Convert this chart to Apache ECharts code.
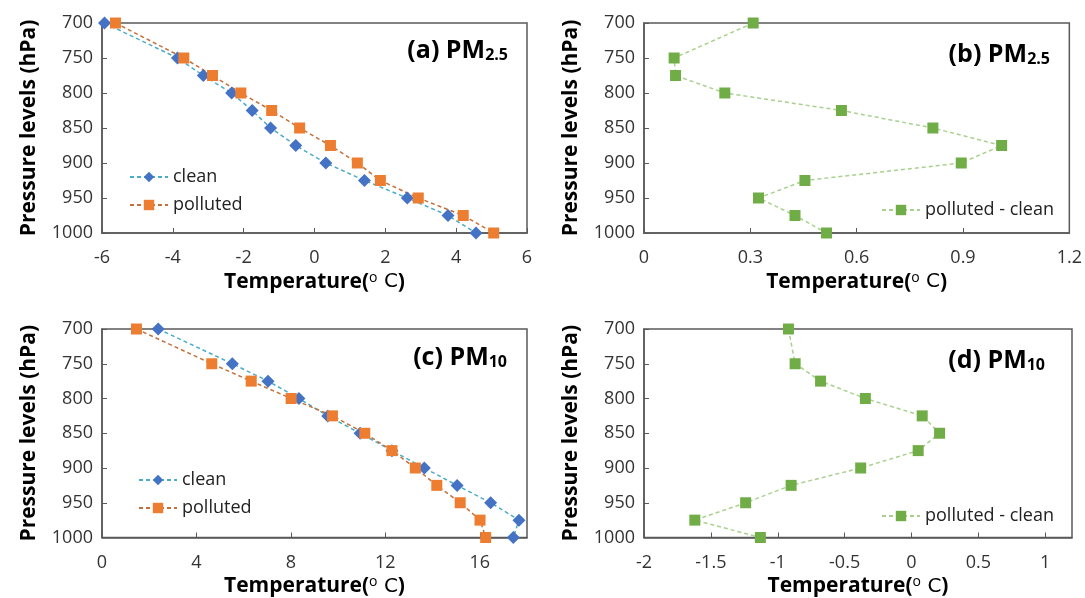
<!DOCTYPE html>
<html>
<head>
<meta charset="utf-8">
<script src="https://cdn.jsdelivr.net/npm/echarts@6/dist/echarts.min.js"></script>
<style>
  html, body { margin: 0; padding: 0; background: #fff; }
  #chart { width: 1085px; height: 598px; }
</style>
</head>
<body>
<div id="chart"></div>
<script>
// pressure levels (hPa)
const levels = [700, 750, 775, 800, 825, 850, 875, 900, 925, 950, 975, 1000];

// (a) PM2.5 temperature profiles
const pm25Clean = [-5.93, -3.87, -3.14, -2.34, -1.76, -1.24, -0.53, 0.32, 1.41, 2.62, 3.77, 4.56];
const pm25Polluted = [-5.62, -3.69, -2.88, -2.08, -1.21, -0.42, 0.45, 1.21, 1.86, 2.93, 4.2, 5.06];
// (b) PM2.5 polluted - clean
const pm25Diff = [0.308, 0.085, 0.089, 0.228, 0.557, 0.815, 1.009, 0.895, 0.454, 0.323, 0.426, 0.515];

// (c) PM10 temperature profiles
const pm10Clean = [2.38, 5.52, 7.03, 8.34, 9.56, 10.93, 12.28, 13.65, 15.04, 16.46, 17.66, 17.42];
const pm10Polluted = [1.46, 4.65, 6.32, 8.01, 9.76, 11.13, 12.28, 13.27, 14.18, 15.17, 16.01, 16.25];
// (d) PM10 polluted - clean
const pm10Diff = [-0.92, -0.87, -0.68, -0.345, 0.08, 0.21, 0.05, -0.38, -0.9, -1.24, -1.62, -1.13];

const panelLabels = [['(a) PM', '2.5'], ['(b) PM', '2.5'], ['(c) PM', '10'], ['(d) PM', '10']];

const FONT = 'Open Sans';
const axisColor = '#595959';
const labelColor = '#333';

const pair = (xs) => xs.map((x, i) => [x, levels[i]]);

const grids = [
  { left: 102, top: 23, width: 425, height: 210 },
  { left: 644, top: 23, width: 428, height: 210 },
  { left: 102, top: 329, width: 425, height: 210 },
  { left: 644, top: 329, width: 428, height: 210 }
].map(g => Object.assign(g, { show: true, borderColor: axisColor, borderWidth: 1.5, backgroundColor: '#fff' }));

const xRanges = [
  { min: -6, max: 6, interval: 2, showMax: true },
  { min: 0, max: 1.2, interval: 0.3, showMax: true },
  { min: 0, max: 18, interval: 4, showMax: false },
  { min: -2, max: 1.2, interval: 0.5, showMax: false }
];

const xAxes = xRanges.map((r, i) => ({
  type: 'value', gridIndex: i, min: r.min, max: r.max, interval: r.interval,
  name: '{t|Temperature(}{s|o}{c| C}{t|)}',
  nameLocation: 'middle', nameGap: 38,
  nameTextStyle: {
    rich: {
      t: { fontFamily: FONT, fontWeight: 'bold', fontSize: 21, color: '#000' },
      s: { fontFamily: FONT, fontSize: 14, color: '#000', verticalAlign: 'top', padding: [0, 0, 8, 0] },
      c: { fontFamily: 'DejaVu Sans', fontWeight: 'normal', fontSize: 20, color: '#000' }
    }
  },
  splitLine: { show: false },
  axisLine: { onZero: false, lineStyle: { color: axisColor, width: 1.5 } },
  axisTick: { inside: true, length: 5, lineStyle: { color: axisColor } },
  axisLabel: { fontFamily: FONT, fontSize: 18, color: labelColor, margin: 16, showMaxLabel: r.showMax }
}));

const yAxes = grids.map((g, i) => ({
  type: 'value', gridIndex: i, inverse: true, min: 700, max: 1000, interval: 50,
  name: 'Pressure levels (hPa)', nameLocation: 'middle', nameGap: 62,
  nameTextStyle: { fontFamily: FONT, fontWeight: 'bold', fontSize: 21, color: '#000' },
  splitLine: { show: false },
  axisLine: { onZero: false, lineStyle: { color: axisColor, width: 1.5 } },
  axisTick: { inside: true, length: 5, lineStyle: { color: axisColor } },
  axisLabel: { fontFamily: FONT, fontSize: 18, color: labelColor, margin: 9, formatter: v => String(v) }
}));

const cleanStyle = {
  name: 'clean', type: 'line', symbol: 'diamond', symbolSize: 13,
  itemStyle: { color: '#4472C4' },
  lineStyle: { color: '#4BACC6', type: [4, 3], width: 1.5 }
};
const pollutedStyle = {
  name: 'polluted', type: 'line', symbol: 'rect', symbolSize: 11,
  itemStyle: { color: '#ED7D31' },
  lineStyle: { color: '#C5703A', type: [4, 3], width: 1.5 }
};
const diffStyle = {
  name: 'polluted - clean', type: 'line', symbol: 'rect', symbolSize: 11,
  itemStyle: { color: '#70AD47' },
  lineStyle: { color: '#A9D18E', type: [4, 3], width: 1.5 }
};

const series = [
  Object.assign({}, cleanStyle, { xAxisIndex: 0, yAxisIndex: 0, data: pair(pm25Clean) }),
  Object.assign({}, pollutedStyle, { xAxisIndex: 0, yAxisIndex: 0, data: pair(pm25Polluted) }),
  Object.assign({}, diffStyle, { xAxisIndex: 1, yAxisIndex: 1, data: pair(pm25Diff) }),
  Object.assign({}, cleanStyle, { xAxisIndex: 2, yAxisIndex: 2, data: pair(pm10Clean) }),
  Object.assign({}, pollutedStyle, { xAxisIndex: 2, yAxisIndex: 2, data: pair(pm10Polluted) }),
  Object.assign({}, diffStyle, { xAxisIndex: 3, yAxisIndex: 3, data: pair(pm10Diff) })
].map(s => Object.assign(s, { silent: true, animation: false, clip: false }));

const titleRight = [577, 35, 578, 40];
const titleTop = [38, 42, 345, 348];
const titles = panelLabels.map((p, i) => ({
  text: '{m|' + p[0] + '}{s|' + p[1] + '}',
  right: titleRight[i], top: titleTop[i], padding: 0,
  textStyle: {
    rich: {
      m: { fontFamily: FONT, fontWeight: 'bold', fontSize: 25, color: '#000' },
      s: { fontFamily: FONT, fontWeight: 'bold', fontSize: 16, color: '#000', verticalAlign: 'bottom', padding: [6, 0, 0, 0] }
    }
  }
}));

const legendBase = {
  orient: 'vertical', itemWidth: 38, itemHeight: 13, itemGap: 10, padding: 0,
  textStyle: { fontFamily: FONT, fontSize: 18, color: '#222' }, selectedMode: false
};
const legends = [
  Object.assign({}, legendBase, { data: ['clean', 'polluted'], left: 129, top: 168 }),
  Object.assign({}, legendBase, { data: ['polluted - clean'], left: 881, top: 201 }),
  Object.assign({}, legendBase, { data: ['clean', 'polluted'], left: 138, top: 471 }),
  Object.assign({}, legendBase, { data: ['polluted - clean'], left: 881, top: 507 })
];

const chart = echarts.init(document.getElementById('chart'));
chart.setOption({
  backgroundColor: '#fff',
  animation: false,
  title: titles,
  legend: legends,
  grid: grids,
  xAxis: xAxes,
  yAxis: yAxes,
  series: series
});
</script>
</body>
</html>
